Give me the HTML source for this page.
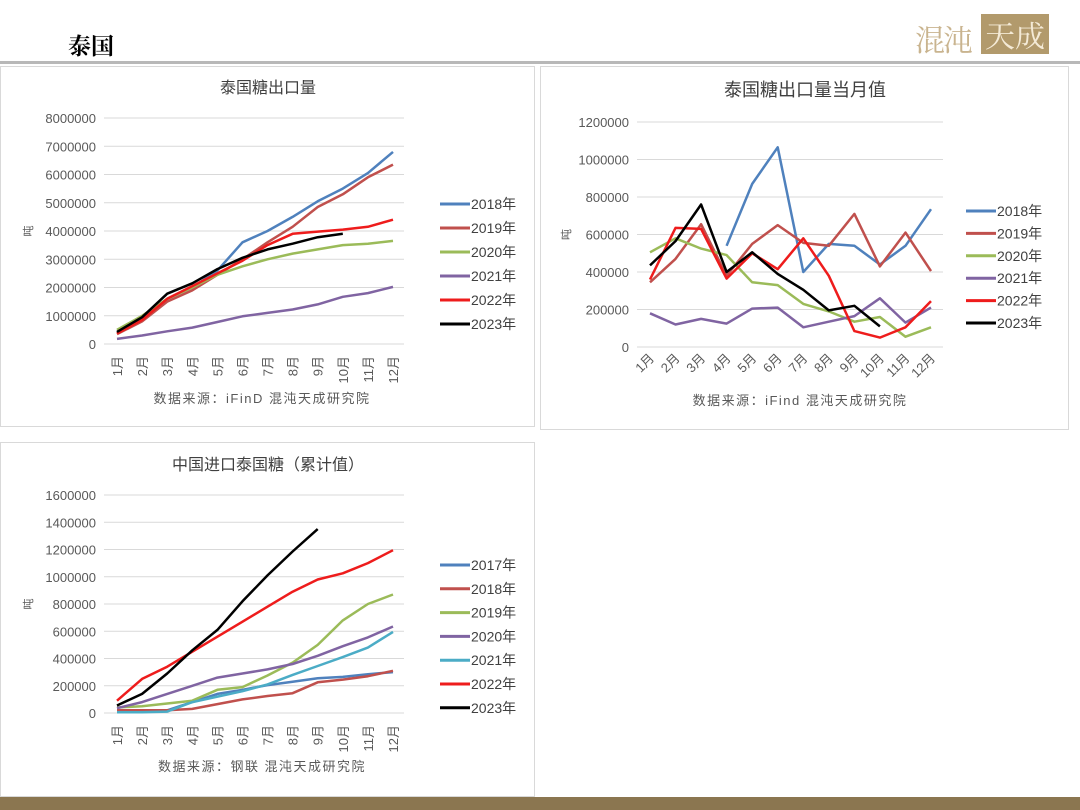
<!DOCTYPE html>
<html><head><meta charset="utf-8">
<style>
body{margin:0;width:1080px;height:810px;background:#fff;position:relative;overflow:hidden;font-family:"Liberation Sans","Noto Sans CJK SC",sans-serif;}
.abs{position:absolute;}
.panel{position:absolute;border:1px solid #d9d9d9;background:#fff;}
svg text{font-family:"Liberation Sans","Noto Sans CJK SC",sans-serif;}
</style></head><body>
<div class="abs" style="left:68px;top:28px;font-size:23px;font-weight:bold;font-family:'Noto Serif CJK SC','Noto Sans CJK SC',serif;">泰国</div>
<div class="abs" style="left:915px;top:14px;width:135px;height:40px;">
 <span style="position:absolute;left:0;top:2px;font-size:30px;color:#c9b48f;font-family:'Noto Serif CJK SC',serif;letter-spacing:-2px;">混沌</span>
 <span style="position:absolute;left:66px;top:0;width:68px;height:40px;background:#b29a6c;color:#f4ead6;font-size:30px;line-height:40px;text-align:center;font-family:'Noto Serif CJK SC',serif;">天成</span>
</div>
<div class="abs" style="left:0;top:61px;width:1080px;height:3px;background:#b8b8b8;"></div>
<div class="panel" style="left:0;top:66px;width:533px;height:359px;"></div>
<div class="panel" style="left:540px;top:66px;width:527px;height:362px;"></div>
<div class="panel" style="left:0;top:442px;width:533px;height:353px;"></div>
<div class="abs" style="left:0;top:797px;width:1080px;height:13px;background:#8b7650;"></div>
<svg id="s" class="abs" style="left:0;top:0" width="1080" height="810"></svg>
<script>
const months=["1月","2月","3月","4月","5月","6月","7月","8月","9月","10月","11月","12月"];
// Chart 1: Thai sugar export cumulative (tonnes)
const c1Years=["2018年","2019年","2020年","2021年","2022年","2023年"];
const c1_2018=[400000,900000,1600000,2000000,2600000,3600000,4000000,4500000,5050000,5500000,6050000,6800000];
const c1_2019=[350000,800000,1500000,1900000,2450000,3000000,3600000,4150000,4850000,5300000,5900000,6350000];
const c1_2020=[500000,1000000,1600000,2000000,2450000,2750000,3000000,3200000,3350000,3500000,3550000,3650000];
const c1_2021=[180000,300000,450000,580000,780000,980000,1100000,1220000,1400000,1670000,1800000,2020000];
const c1_2022=[370000,850000,1600000,2050000,2500000,2950000,3500000,3900000,3980000,4050000,4150000,4400000];
const c1_2023=[430000,950000,1780000,2150000,2650000,3050000,3350000,3550000,3780000,3900000];
const c1Ticks=[0,1000000,2000000,3000000,4000000,5000000,6000000,7000000,8000000];
// Chart 2: monthly
const c2Years=["2018年","2019年","2020年","2021年","2022年","2023年"];
const c2_2018=[null,null,null,540000,870000,1065000,400000,550000,540000,440000,540000,735000];
const c2_2019=[345000,470000,655000,380000,550000,650000,555000,540000,710000,430000,610000,405000];
const c2_2020=[505000,580000,525000,490000,345000,330000,230000,190000,135000,160000,55000,105000];
const c2_2021=[180000,120000,150000,125000,205000,210000,105000,135000,165000,260000,130000,210000];
const c2_2022=[360000,635000,630000,365000,500000,415000,580000,380000,85000,50000,105000,245000];
const c2_2023=[435000,565000,760000,400000,505000,390000,305000,195000,220000,110000];
const c2Ticks=[0,200000,400000,600000,800000,1000000,1200000];
// Chart 3: China import of Thai sugar cumulative
const c3Years=["2017年","2018年","2019年","2020年","2021年","2022年","2023年"];
const c3_2017=[20000,20000,20000,80000,140000,170000,205000,230000,255000,265000,285000,300000];
const c3_2018=[20000,20000,20000,30000,65000,100000,125000,145000,225000,245000,270000,310000];
const c3_2019=[40000,50000,70000,90000,170000,190000,275000,370000,500000,680000,800000,870000];
const c3_2020=[35000,80000,140000,200000,260000,290000,320000,360000,420000,490000,555000,635000];
const c3_2021=[5000,5000,10000,80000,120000,160000,210000,280000,345000,410000,480000,595000];
const c3_2022=[90000,250000,340000,450000,560000,670000,780000,890000,980000,1025000,1100000,1195000];
const c3_2023=[55000,140000,290000,460000,610000,820000,1010000,1185000,1350000];
const c3Ticks=[0,200000,400000,600000,800000,1000000,1200000,1400000,1600000];

const NS="http://www.w3.org/2000/svg",svg=document.getElementById('s');
function mk(t,a,p){const e=document.createElementNS(NS,t);for(const k in a)e.setAttribute(k,a[k]);(p||svg).appendChild(e);return e;}
function chart(cfg){
 const g=mk('g',{});
 
 
 const max=cfg.ticks[cfg.ticks.length-1];
 const yS=v=>cfg.y0-(v/max)*(cfg.y0-cfg.y1);
 const xS=i=>cfg.xa+i*(cfg.xb-cfg.xa)/11;
 const t=mk('text',{x:cfg.tx,y:cfg.ty,'text-anchor':'middle','font-size':cfg.tfs,fill:'#404040','font-family':'"Noto Serif CJK SC",serif'},g);t.textContent=cfg.title;
 
 cfg.ticks.forEach(v=>{
  const l=mk('line',{x1:cfg.gl,x2:cfg.gr,y1:yS(v),y2:yS(v),stroke:'#d9d9d9','stroke-width':1},g);
  
  const tx=mk('text',{x:cfg.gl-8,y:yS(v)+5,'text-anchor':'end','font-size':13,fill:'#595959'},g);tx.textContent=v;
  
 });
 const u=mk('text',{x:cfg.ux,y:(cfg.y0+cfg.y1)/2,'font-size':11,fill:'#595959',transform:`rotate(-90 ${cfg.ux} ${(cfg.y0+cfg.y1)/2})`,'text-anchor':'middle'},g);u.textContent='吨';
 
 months.forEach((m,i)=>{
  const x=xS(i),y=cfg.y0+12;
  const tx=mk('text',{x:x+5,y:y,'font-size':13,fill:'#595959','text-anchor':'end',transform:`rotate(${cfg.rot} ${x+5} ${y})`},g);tx.textContent=m;
  
 });
 cfg.series.forEach((s,k)=>{
  let d='',pen=false;
  s.data.forEach((v,i)=>{if(v==null){pen=false;return;}d+=(pen?'L':'M')+xS(i).toFixed(1)+' '+yS(v).toFixed(1);pen=true;});
  const p=mk('path',{d:d,fill:'none',stroke:s.c,'stroke-width':s.w||2.5,'stroke-linejoin':'round'},g);
  
  const ly=cfg.ly0+k*cfg.lstep;
  const ll=mk('line',{x1:cfg.lx,x2:cfg.lx+30,y1:ly,y2:ly,stroke:s.c,'stroke-width':3},g);
  
  const lt=mk('text',{x:cfg.lx+31,y:ly+5,'font-size':14,fill:'#404040'},g);lt.textContent=s.n;
  
 });
 const src=mk('text',{x:cfg.sx,y:cfg.sy,'text-anchor':'middle','font-size':13,fill:'#595959','letter-spacing':'1.5','font-family':'"Noto Serif CJK SC",serif'},g);src.textContent=cfg.src;
 
}
const B='#4f81bd',R='#c0504d',G='#9bbb59',P='#8064a2',RR='#ee1c1c',K='#000',C='#4bacc6';
chart({name:'chart-export-cumulative',title:'泰国糖出口量',tx:268,ty:93,tfs:16,ticks:c1Ticks,y0:344,y1:118,gl:104,gr:404,xa:117,xb:393,ux:32,rot:-90,
 lx:440,ly0:204,lstep:24,sx:262,sy:403,src:'数据来源：iFinD 混沌天成研究院',
 series:[{n:c1Years[0],c:B,data:c1_2018},{n:c1Years[1],c:R,data:c1_2019},{n:c1Years[2],c:G,data:c1_2020},{n:c1Years[3],c:P,data:c1_2021},{n:c1Years[4],c:RR,data:c1_2022},{n:c1Years[5],c:K,data:c1_2023}]});
chart({name:'chart-export-monthly',title:'泰国糖出口量当月值',tx:805,ty:96,tfs:18,ticks:c2Ticks,y0:347,y1:122,gl:637,gr:943,xa:650,xb:931,ux:570,rot:-45,
 lx:966,ly0:211,lstep:22.4,sx:800,sy:405,src:'数据来源：iFind  混沌天成研究院',
 series:[{n:c2Years[0],c:B,data:c2_2018},{n:c2Years[1],c:R,data:c2_2019},{n:c2Years[2],c:G,data:c2_2020},{n:c2Years[3],c:P,data:c2_2021},{n:c2Years[4],c:RR,data:c2_2022},{n:c2Years[5],c:K,data:c2_2023}]});
chart({name:'chart-china-import',title:'中国进口泰国糖（累计值）',tx:268,ty:470,tfs:16,ticks:c3Ticks,y0:713,y1:495,gl:104,gr:404,xa:117,xb:393,ux:32,rot:-90,
 lx:440,ly0:565,lstep:23.8,sx:262,sy:771,src:'数据来源：钢联  混沌天成研究院',
 series:[{n:c3Years[0],c:B,data:c3_2017},{n:c3Years[1],c:R,data:c3_2018},{n:c3Years[2],c:G,data:c3_2019},{n:c3Years[3],c:P,data:c3_2020},{n:c3Years[4],c:C,data:c3_2021},{n:c3Years[5],c:RR,data:c3_2022},{n:c3Years[6],c:K,data:c3_2023}]});
</script>
</body></html>
